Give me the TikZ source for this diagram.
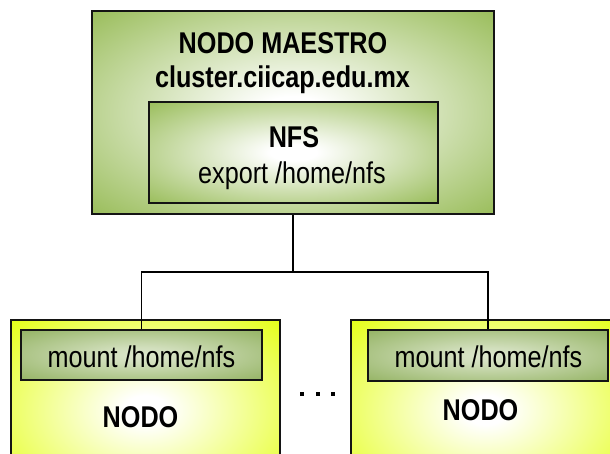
\documentclass[tikz,border=0pt]{standalone}
\usepackage{fontspec}
\setmainfont{Liberation Sans}[FakeStretch=0.84]
\definecolor{mgreen}{RGB}{152,188,88}
\definecolor{dgreen}{RGB}{139,173,86}
\definecolor{myellow}{RGB}{228,255,20}
\definecolor{bordc}{RGB}{20,20,20}
\pgfdeclareradialshading{glowgreen}{\pgfpoint{0bp}{0bp}}{color(0bp)=(white);color(4bp)=(white);color(36bp)=(mgreen);color(50bp)=(mgreen)}
\pgfdeclareradialshading{glowdgreen}{\pgfpoint{0bp}{0bp}}{color(0bp)=(white!70!dgreen);color(8bp)=(white!60!dgreen);color(40bp)=(dgreen);color(50bp)=(dgreen)}
\pgfdeclareradialshading{glowyellow}{\pgfpoint{0bp}{0bp}}{color(0bp)=(white);color(4bp)=(white);color(36bp)=(myellow);color(50bp)=(myellow)}
\begin{document}
\begin{tikzpicture}[x=1pt,y=-1pt,
  box/.style={draw=bordc, line width=2pt, inner sep=0pt, anchor=center, rectangle},
  txt/.style={anchor=base, inner sep=0pt, font=\fontsize{30}{33}\selectfont},
  btxt/.style={txt, font=\fontsize{30}{33}\selectfont\bfseries},
  conn/.style={draw=black, line width=1.8pt},
  dotsq/.style={fill=black, rectangle, minimum size=4.5pt, inner sep=0pt}]
\fill[white] (0,0) rectangle (610,453);
\clip (0,0) rectangle (610,453);
% master
\node[box, shading=glowgreen, shade, minimum width=402pt, minimum height=203pt] (master) at (293,112.5) {};
\node[box, shading=glowgreen, shade, minimum width=289pt, minimum height=101pt] (nfs) at (293.5,152.5) {};
\node[btxt] (tmaster) at (283,53) {NODO MAESTRO};
\node[btxt] (tcluster) at (282.5,87) {cluster.ciicap.edu.mx};
\node[btxt] (tnfs) at (294,147) {NFS};
\node[txt] (texport) at (292,183) {export /home/nfs};
% client nodes
\node[box, shading=glowyellow, shade, minimum width=269pt, minimum height=180pt] (nodeL) at (145.5,410) {};
\node[box, shading=glowyellow, shade, minimum width=269pt, minimum height=180pt] (nodeR) at (485.5,410) {};
\node[box, shading=glowdgreen, shade, minimum width=241pt, minimum height=50pt] (mountL) at (141.5,355) {};
\node[box, shading=glowdgreen, shade, minimum width=240pt, minimum height=51pt] (mountR) at (488,355.5) {};
\node[txt] (tmountL) at (141.5,367) {mount /home/nfs};
\node[txt] (tmountR) at (488.5,367) {mount /home/nfs};
\node[btxt] (tnodoL) at (140.5,427) {NODO};
\node[btxt] (tnodoR) at (480.5,420) {NODO};
% connectors
\coordinate (j) at (293,272);
\draw[conn] (master.south) -- (j);
\draw[conn] (mountL.north) |- (j) -| (mountR.north);
% dots
\node[dotsq] (d1) at (302,394) {};
\node[dotsq] (d2) at (318,394) {};
\node[dotsq] (d3) at (333,394) {};
\end{tikzpicture}
\end{document}
